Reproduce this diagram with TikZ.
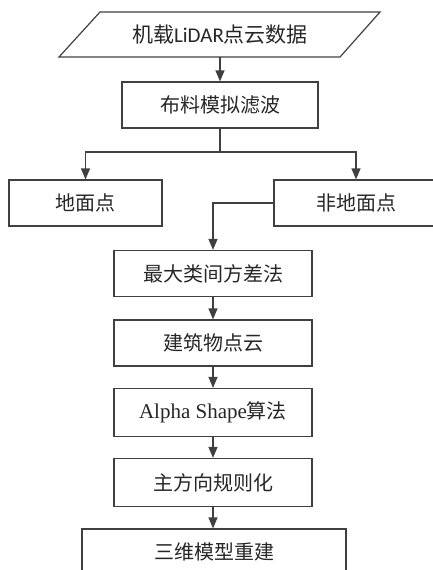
\documentclass[tikz,border=0pt]{standalone}
\usepackage{fontspec}
\setmainfont{Liberation Serif}
\newfontfamily\cjk{Noto Sans CJK SC}
\newfontfamily\carlitofont{Carlito}
\usetikzlibrary{arrows.meta}
\definecolor{ln}{HTML}{404040}
\tikzset{
  box/.style={draw=ln, line width=1.2pt, rectangle, minimum height=46pt, inner sep=0pt, font=\fontsize{20}{24}\selectfont, text=black!85},
  arr/.style={draw=ln, line width=1.2pt, -{Triangle[length=11pt,width=9pt]}},
  ln/.style={draw=ln, line width=1.2pt}
}
\begin{document}
\begin{tikzpicture}[x=1pt,y=-1pt]
\useasboundingbox (0,0) rectangle (433,570);
% input parallelogram
\draw[ln] (100,12) -- (380,12) -- (340,57) -- (59,57) -- cycle;
\node[font=\fontsize{21}{24}\selectfont, text=black!85, inner sep=0pt] (in) at (220,35) {\cjk 机载\carlitofont LiDAR\cjk 点云数据};
\coordinate (inbot) at (220,57);
\node[box, minimum width=196pt] (b1) at (220,105) {\cjk 布料模拟滤波};
\node[box, minimum width=153pt] (gnd) at (85.5,203) {\cjk 地面点};
\node[box, minimum width=164pt] (ngnd) at (356,203) {\cjk 非地面点};
\node[box, minimum width=198pt] (b3) at (213,273.5) {\cjk 最大类间方差法};
\node[box, minimum width=198pt] (b4) at (213,343) {\cjk 建筑物点云};
\node[box, minimum width=198pt, minimum height=48pt, font=\fontsize{21}{24}\selectfont] (b5) at (213,412.5) {Alpha Shape\cjk\fontsize{20}{24}\selectfont 算法};
\node[box, minimum width=198pt, minimum height=48pt] (b6) at (213,482.5) {\cjk 主方向规则化};
\node[box, minimum width=264pt] (b7) at (214,552) {\cjk 三维模型重建};
\coordinate (split) at (220,152);
\draw[arr] (inbot) -- (b1.north);
\draw[ln] (b1.south) -- (split);
\draw[arr] (split) -| (gnd.north);
\draw[arr] (split) -| (ngnd.north);
\draw[arr] (ngnd.west) -| (b3.north);
\draw[arr] (b3) -- (b4);
\draw[arr] (b4) -- (b5);
\draw[arr] (b5) -- (b6);
\draw[arr] (b6.south) -- (b6.south |- b7.north);
\end{tikzpicture}
\end{document}
